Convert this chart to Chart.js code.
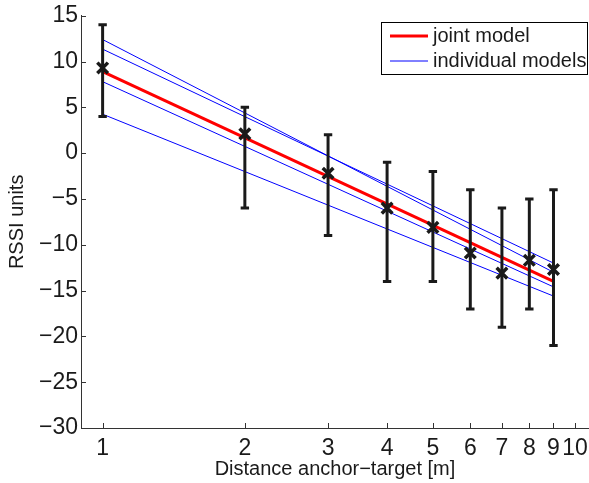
<!DOCTYPE html>
<html><head><meta charset="utf-8">
<script src="https://cdn.jsdelivr.net/npm/chart.js@4.4.0/dist/chart.umd.min.js"></script>
<style>html,body{margin:0;padding:0;background:#fff}#wrap{width:589px;height:483px}</style>
</head><body><div id="wrap"><canvas id="c" width="589" height="483"></canvas></div>
<script>
// ---- data ----
const distances = [1, 2, 3, 4, 5, 6, 7, 8, 9];
const meanRssi = [9.3, 2.1, -2.2, -6.0, -8.1, -10.9, -13.1, -11.7, -12.7];
const lowerRssi = [4, -6, -9, -14, -14, -17, -19, -17, -21];
const upperRssi = [14, 5, 2, -1, -2, -4, -6, -5, -4];
const modelDistances = [1, 9];
const jointModel = [8.9, -14.0];
const individualModel1 = [12.4, -13.0];
const individualModel2 = [11.35, -12.0];
const individualModel3 = [7.8, -14.6];
const individualModel4 = [4.25, -15.6];
const xTicks = [1, 2, 3, 4, 5, 6, 7, 8, 9, 10];
const yTicks = [-30, -25, -20, -15, -10, -5, 0, 5, 10, 15];
const seriesLabels = ['joint model', 'individual models'];
const xTitle = 'Distance anchor\u2212target [m]';
const yTitle = 'RSSI units';

const FONT = '"Liberation Sans", Arial, Helvetica, sans-serif';
const TXT = '#1a1a1a';

const toPts = (xs, ys) => xs.map((x, i) => ({x: x, y: ys[i]}));
const individualModels = [individualModel1, individualModel2, individualModel3, individualModel4];

const datasets = [];
individualModels.forEach(m => datasets.push({
  data: toPts(modelDistances, m), showLine: true, borderColor: '#0000ff',
  borderWidth: 1, pointRadius: 0, order: 4
}));
datasets.push({
  data: toPts(modelDistances, jointModel), showLine: true, borderColor: '#ff0000',
  borderWidth: 3, pointRadius: 0, order: 3
});
datasets.push({
  data: distances.flatMap((d, i) => [{x: d, y: lowerRssi[i]}, {x: d, y: upperRssi[i]}, {x: d, y: null}]),
  showLine: true, spanGaps: false, borderColor: '#1a1a1a', borderWidth: 3, pointRadius: 0, order: 2
});
datasets.push({
  data: toPts(distances, lowerRssi).concat(toPts(distances, upperRssi)),
  showLine: false, pointStyle: 'line', pointRadius: 4.2, borderColor: '#1a1a1a', borderWidth: 3,
  backgroundColor: '#1a1a1a', order: 1
});
datasets.push({
  data: toPts(distances, meanRssi), showLine: false, pointStyle: 'crossRot', pointRadius: 7.5,
  borderColor: '#1a1a1a', borderWidth: 3.5, order: 0
});

const inwardTicks = {
  id: 'inwardTicks',
  afterDraw(chart) {
    const {ctx, chartArea: a, scales: {x, y}} = chart;
    ctx.save();
    ctx.strokeStyle = '#333';
    ctx.lineWidth = 1;
    ctx.beginPath();
    xTicks.forEach(v => { const px = Math.round(x.getPixelForValue(v)) + 0.5; ctx.moveTo(px, a.bottom); ctx.lineTo(px, a.bottom - 5); });
    yTicks.forEach(v => { const py = Math.round(y.getPixelForValue(v)) + 0.5; ctx.moveTo(a.left, py); ctx.lineTo(a.left + 5, py); });
    ctx.stroke();
    ctx.restore();
  }
};

const boxLegend = {
  id: 'boxLegend',
  afterDraw(chart) {
    const ctx = chart.ctx;
    ctx.save();
    ctx.fillStyle = '#fff';
    ctx.fillRect(382, 22, 206, 52);
    ctx.strokeStyle = '#000';
    ctx.lineWidth = 1;
    ctx.strokeRect(381.5, 22.5, 206, 52);
    const rows = [{c: '#ff0000', w: 3, y: 36}, {c: '#0000ff', w: 1, y: 61}];
    rows.forEach((r, i) => {
      ctx.strokeStyle = r.c; ctx.lineWidth = r.w;
      ctx.beginPath(); ctx.moveTo(390, r.y); ctx.lineTo(428, r.y); ctx.stroke();
      ctx.fillStyle = TXT; ctx.font = '20px ' + FONT;
      ctx.textAlign = 'left'; ctx.textBaseline = 'middle';
      ctx.fillText(seriesLabels[i], 433, r.y);
    });
    ctx.restore();
  }
};

new Chart(document.getElementById('c'), {
  type: 'scatter',
  data: {datasets},
  options: {
    responsive: false, devicePixelRatio: 1, animation: false,
    layout: {autoPadding: false, padding: {top: 15.7, right: 0, bottom: 0, left: 0}},
    plugins: {legend: {display: false}, tooltip: {enabled: false}},
    scales: {
      x: {
        type: 'logarithmic', min: 0.9, max: 10.7,
        afterBuildTicks: s => { s.ticks = xTicks.map(v => ({value: v})); },
        afterFit: s => { s.height = 55; s.paddingLeft = 0; s.paddingRight = 0; },
        grid: {display: false, drawTicks: false},
        border: {display: true, color: '#333', width: 1},
        ticks: {autoSkip: false, maxRotation: 0, minRotation: 0, padding: 7, color: TXT,
          font: {family: FONT, size: 23}, callback: v => String(v)},
        title: {display: true, text: xTitle, color: TXT, font: {family: FONT, size: 20},
          padding: {top: 0, bottom: 1.5}}
      },
      y: {
        type: 'linear', min: -30, max: 15,
        afterBuildTicks: s => { s.ticks = yTicks.map(v => ({value: v})); },
        afterFit: s => { s.width = 81; s.paddingTop = 0; s.paddingBottom = 0; },
        grid: {display: false, drawTicks: false},
        border: {display: true, color: '#333', width: 1},
        ticks: {padding: 3, color: TXT, font: {family: FONT, size: 23},
          callback: v => (v < 0 ? '\u2212' + Math.abs(v) : String(v))},
        title: {display: true, text: yTitle, color: TXT, font: {family: FONT, size: 20},
          padding: {top: 5, bottom: 0}}
      }
    }
  },
  plugins: [inwardTicks, boxLegend]
});
</script></body></html>
